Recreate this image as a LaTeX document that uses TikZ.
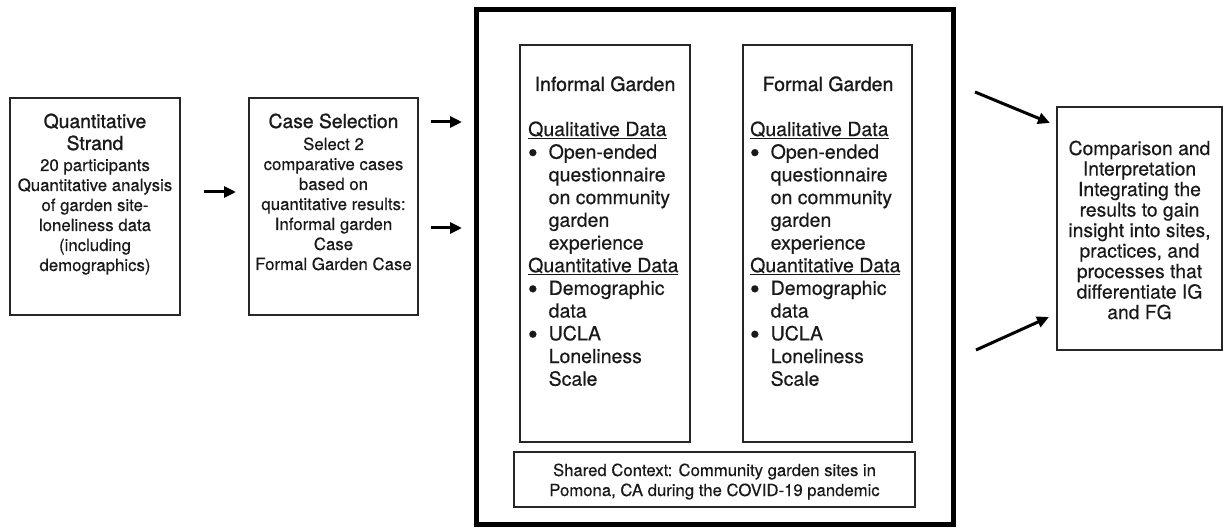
\documentclass[tikz,border=0pt]{standalone}
\usepackage{fontspec}
\setmainfont{TeX Gyre Heros}[FakeBold=0.35]
\newfontfamily\headfont{TeX Gyre Heros}[FakeBold=1.1]
\usetikzlibrary{arrows.meta}

% type sizes (pt), with their line spacing
\newcommand\sztitle{\headfont\fontsize{19.3}{22}\selectfont}
\newcommand\szbody{\fontsize{16.8}{20}\selectfont}
\newcommand\szhead{\headfont\fontsize{19.5}{22.7}\selectfont}
\newcommand\szinner{\fontsize{19.5}{22.7}\selectfont}
\newcommand\szshared{\fontsize{16.7}{20}\selectfont}
\newcommand\szcomp{\fontsize{19.3}{20.5}\selectfont}
% bullet list helpers for the two garden columns
\newcommand\bul{\makebox[20.5pt][l]{\hspace{-0.3pt}\raisebox{-3.7pt}{\scalebox{1.45}{\textbullet}}}}
\newcommand\ind{\hspace*{20.5pt}}

\begin{document}
\begin{tikzpicture}[x=1pt,y=-1pt,
  panel/.style={draw=black!85, line width=1.3pt, inner sep=0pt, outer sep=0pt,
                anchor=north west, fill=white},
  frame/.style={draw=black, line width=5pt, inner sep=0pt, outer sep=0pt,
                anchor=north west},
  label/.style={inner sep=0pt, text=black!90},
  flow/.style={line width=3pt, -{Triangle[length=12pt,width=11pt]}, black}]

\useasboundingbox (0,0) rectangle (1223,529);

% (multi-line labels are placed by the baseline of their last line)

% ---- left column: quantitative strand ----
\node[panel, minimum width=170pt, minimum height=217pt] (strand) at (10,98) {};
\node[label, anchor=base, align=center, font=\sztitle] (strandtitle) at (95,150)
  {Quantitative\\Strand};
\node[label, anchor=base, align=center, font=\szbody] (strandbody) at (95,271)
  {20 participants\\Quantitative analysis\\of garden site-\\loneliness data\\(including\\demographics)};

% ---- case selection ----
\node[panel, minimum width=169pt, minimum height=217pt] (cases) at (249,98) {};
\node[label, anchor=base, align=center, font=\sztitle] (casetitle) at (333.5,128)
  {Case Selection};
\node[label, anchor=base, align=center, font=\szbody] (casebody) at (333.5,270)
  {Select 2\\comparative cases\\based on\\quantitative results:\\Informal garden\\Case\\Formal Garden Case};

% ---- central study frame ----
\node[frame, minimum width=477pt, minimum height=514.5pt] (study) at (476,9.5) {};

\node[panel, minimum width=170pt, minimum height=397pt] (informal) at (520,45) {};
\node[label, anchor=base, font=\szhead] (informaltitle) at (605,91) {Informal Garden};
\node[label, anchor=base west, align=left, font=\szinner] (informalbody) at (528,385.7)
  {\underline{Qualitative Data}\\
   \bul Open-ended\\
   \ind questionnaire\\
   \ind on community\\
   \ind garden\\
   \ind experience\\
   \underline{Quantitative Data}\\
   \bul Demographic\\
   \ind data\\
   \bul UCLA\\
   \ind Loneliness\\
   \ind Scale};

\node[panel, minimum width=169pt, minimum height=397pt] (formal) at (743,45) {};
\node[label, anchor=base, font=\szhead] (formaltitle) at (828,91) {Formal Garden};
\node[label, anchor=base west, align=left, font=\szinner] (formalbody) at (750,385.7)
  {\underline{Qualitative Data}\\
   \bul Open-ended\\
   \ind questionnaire\\
   \ind on community\\
   \ind garden\\
   \ind experience\\
   \underline{Quantitative Data}\\
   \bul Demographic\\
   \ind data\\
   \bul UCLA\\
   \ind Loneliness\\
   \ind Scale};

\node[panel, minimum width=401pt, minimum height=55pt] (shared) at (514,452) {};
\node[label, anchor=base, align=center, font=\szshared] (sharedtext) at (714.5,496)
  {Shared Context: Community garden sites in\\Pomona, CA during the COVID-19 pandemic};

% ---- right column: comparison ----
\node[panel, minimum width=165pt, minimum height=243pt] (compare) at (1057,107) {};
\node[label, align=center, font=\szcomp] (comparetext) at (1139.5,230)
  {Comparison and\\Interpretation\\Integrating the\\results to gain\\insight into sites,\\practices, and\\processes that\\differentiate IG\\and FG};

% ---- arrows ----
\coordinate (s1) at (204,192);  \coordinate (e1) at (236,192);
\coordinate (s2) at (431,122);  \coordinate (e2) at (462,122);
\coordinate (s3) at (431,228);  \coordinate (e3) at (462,228);
\coordinate (s4) at (975,92);   \coordinate (e4) at (1050,123);
\coordinate (s5) at (976,350);  \coordinate (e5) at (1049,317);

\draw[flow] (s1) -- (e1);
\draw[flow] (s2) -- (e2);
\draw[flow] (s3) -- (e3);
\draw[flow] (s4) -- (e4);
\draw[flow] (s5) -- (e5);

\end{tikzpicture}
\end{document}
